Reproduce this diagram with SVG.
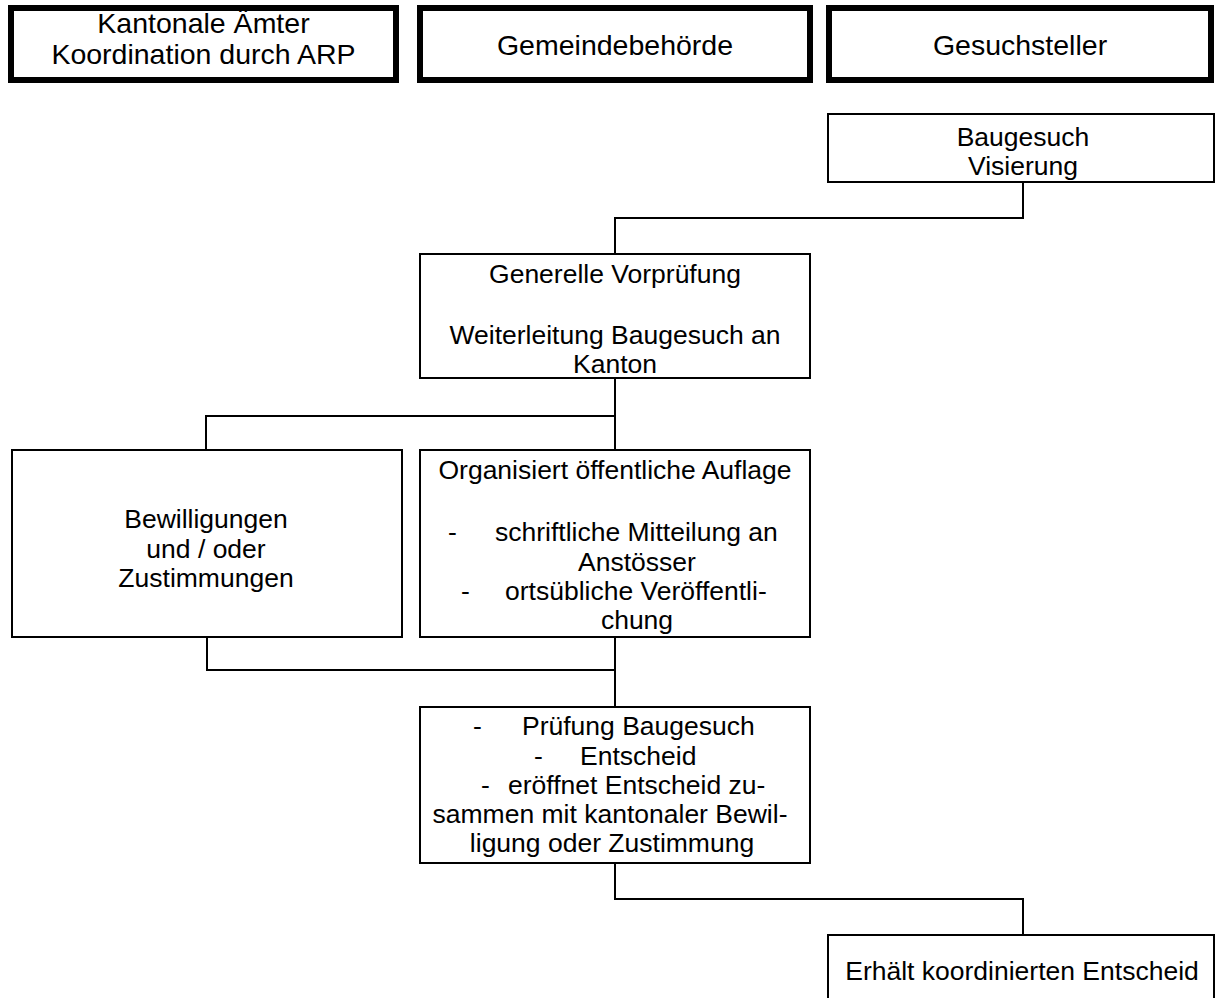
<svg xmlns="http://www.w3.org/2000/svg" width="1218" height="998" viewBox="0 0 1218 998">
<style>
.hdr{fill:#fff;stroke:#000;stroke-width:6}
.box{fill:#fff;stroke:#000;stroke-width:2}
.ht{font-family:"Liberation Sans",Arial,sans-serif;font-size:28.5px;fill:#000;text-anchor:middle}
.t{font-family:"Liberation Sans",Arial,sans-serif;font-size:26.5px;fill:#000}
.c{text-anchor:middle}
.con{fill:none;stroke:#000;stroke-width:2}
</style>
<rect width="1218" height="998" fill="#fff"/>
<g id="connectors">
<polyline class="con" points="1023,182 1023,218 615,218 615,254"/>
<polyline class="con" points="615,378 615,450"/>
<polyline class="con" points="615,416 206,416 206,450"/>
<polyline class="con" points="207,637 207,670 615,670"/>
<polyline class="con" points="615,637 615,707"/>
<polyline class="con" points="615,863 615,899 1023,899 1023,935"/>
</g>
<g id="hdr-kanton">
<rect class="hdr" x="11" y="8" width="385" height="72"/>
<text class="ht" x="203.5" y="33">Kantonale Ämter</text>
<text class="ht" x="203.5" y="64">Koordination durch ARP</text>
</g>
<g id="hdr-gemeinde">
<rect class="hdr" x="420" y="8" width="390" height="72"/>
<text class="ht" x="615" y="55">Gemeindebehörde</text>
</g>
<g id="hdr-gesuchsteller">
<rect class="hdr" x="829" y="8" width="382" height="72"/>
<text class="ht" x="1020" y="55">Gesuchsteller</text>
</g>
<g id="baugesuch">
<rect class="box" x="828" y="114" width="386" height="68"/>
<text class="t c" x="1023" y="146">Baugesuch</text>
<text class="t c" x="1023" y="175">Visierung</text>
</g>
<g id="vorpruefung">
<rect class="box" x="420" y="254" width="390" height="124"/>
<text class="t c" x="615" y="283">Generelle Vorprüfung</text>
<text class="t c" x="615" y="343.5">Weiterleitung Baugesuch an</text>
<text class="t c" x="615" y="373">Kanton</text>
</g>
<g id="bewilligungen">
<rect class="box" x="12" y="450" width="390" height="187"/>
<text class="t c" x="206" y="528">Bewilligungen</text>
<text class="t c" x="206" y="557.5">und / oder</text>
<text class="t c" x="206" y="587">Zustimmungen</text>
</g>
<g id="auflage">
<rect class="box" x="420" y="450" width="390" height="187"/>
<text class="t c" x="615" y="479">Organisiert öffentliche Auflage</text>
<text class="t" x="448" y="541">-</text>
<text class="t" x="495" y="541">schriftliche Mitteilung an</text>
<text class="t c" x="637" y="570.5">Anstösser</text>
<text class="t" x="461" y="600">-</text>
<text class="t" x="505" y="600">ortsübliche Veröffentli-</text>
<text class="t c" x="637" y="629">chung</text>
</g>
<g id="entscheid">
<rect class="box" x="420" y="707" width="390" height="156"/>
<text class="t" x="473" y="735">-</text>
<text class="t" x="522" y="735">Prüfung Baugesuch</text>
<text class="t" x="534" y="764.5">-</text>
<text class="t" x="580" y="764.5">Entscheid</text>
<text class="t" x="481" y="794">-</text>
<text class="t" x="508" y="794">eröffnet Entscheid zu-</text>
<text class="t c" x="610" y="823">sammen mit kantonaler Bewil-</text>
<text class="t c" x="612" y="852">ligung oder Zustimmung</text>
</g>
<g id="erhaelt">
<rect class="box" x="828" y="935" width="386" height="80"/>
<text class="t c" x="1022" y="980">Erhält koordinierten Entscheid</text>
</g>
</svg>
